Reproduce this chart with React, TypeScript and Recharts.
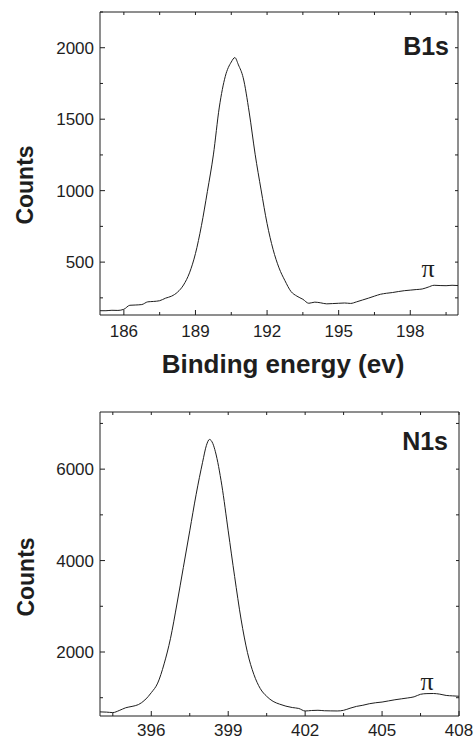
import { LineChart, Line, XAxis, YAxis } from "recharts"

// B1s spectrum
const b1sEnergy = [
    185.0, 185.25, 185.5, 185.75, 186.0, 186.25, 186.5, 186.75, 187.0, 187.25,
    187.5, 187.75, 188.0, 188.25, 188.5, 188.75, 189.0, 189.25, 189.5, 189.75,
    190.0, 190.25, 190.5, 190.65, 190.8, 191.0, 191.25, 191.5, 191.75, 192.0,
    192.25, 192.5, 192.75, 193.0, 193.25, 193.5, 193.75, 194.0, 194.25, 194.5,
    194.75, 195.0, 195.25, 195.5, 195.75, 196.0, 196.25, 196.5, 196.75, 197.0,
    197.25, 197.5, 197.75, 198.0, 198.25, 198.5, 198.75, 199.0, 199.25, 199.5,
    199.75, 200.0,
]
const b1sCounts = [
    160, 160, 163, 162, 170, 198, 200, 203, 222, 225,
    230, 248, 262, 290, 340, 425, 560, 755, 995, 1250,
    1585, 1800, 1900, 1931, 1880, 1790, 1550, 1255, 1005, 770,
    590, 460, 370, 295, 262, 240, 212, 220, 215, 208,
    210, 212, 214, 211, 222, 235, 248, 262, 275, 282,
    287, 294, 300, 304, 308, 312, 325, 338, 336, 335,
    338, 336,
]

// N1s spectrum
const n1sEnergy = [
    394.0, 394.25, 394.5, 394.75, 395.0, 395.25, 395.5, 395.75, 396.0, 396.25,
    396.5, 396.75, 397.0, 397.25, 397.5, 397.75, 398.0, 398.15, 398.27, 398.4,
    398.5, 398.75, 399.0, 399.25, 399.5, 399.75, 400.0, 400.25, 400.5, 400.75,
    401.0, 401.25, 401.5, 401.75, 402.0, 402.25, 402.5, 402.75, 403.0, 403.25,
    403.5, 403.75, 404.0, 404.25, 404.5, 404.75, 405.0, 405.25, 405.5, 405.75,
    406.0, 406.25, 406.5, 406.75, 407.0, 407.25, 407.5, 407.75, 408.0,
]
const n1sCounts = [
    690, 685, 675, 720, 780, 810, 850, 950, 1110, 1320,
    1740, 2300, 3050, 3850, 4650, 5450, 6150, 6520, 6650, 6560,
    6380, 5650, 4650, 3650, 2720, 1990, 1510, 1200, 1030, 920,
    860, 815, 785, 765, 710, 720, 725, 715, 712, 710,
    725, 770, 810, 835, 868, 890, 905, 930, 955, 975,
    995, 1020, 1075, 1090, 1092, 1078, 1050, 1040, 1032,
]

// ticks (majors get labels)
const b1sXTicks = [186, 187.5, 189, 190.5, 192, 193.5, 195, 196.5, 198, 199.5]
const b1sXLabels = [186, 189, 192, 195, 198]
const b1sYTicks = [250, 500, 750, 1000, 1250, 1500, 1750, 2000, 2250]
const b1sYLabels = [500, 1000, 1500, 2000]

const n1sXTicks = [394.5, 396, 397.5, 399, 400.5, 402, 403.5, 405, 406.5, 408]
const n1sXLabels = [396, 399, 402, 405, 408]
const n1sYTicks = [1000, 2000, 3000, 4000, 5000, 6000, 7000]
const n1sYLabels = [2000, 4000, 6000]

const INK = "#1e1e1e"
const FONT = "'Liberation Sans', Arial, sans-serif"

const makeRows = (xs: number[], ys: number[]) => xs.map((e, i) => ({ e, c: ys[i] }))

function bottomTick(p: any, labels: number[], gap: number) {
    const major = labels.includes(p.payload.value)
    return (
        <g>
            <line x1={p.x} x2={p.x} y1={p.y} y2={p.y - (major ? 5 : 3)} stroke={INK} />
            {major && (
                <text x={p.x} y={p.y + gap} textAnchor="middle" fontSize={17} fontFamily={FONT} fill={INK}>
                    {p.payload.value}
                </text>
            )}
        </g>
    )
}

function leftTick(p: any, labels: number[]) {
    const major = labels.includes(p.payload.value)
    return (
        <g>
            <line x1={p.x} x2={p.x + (major ? 5 : 3)} y1={p.y} y2={p.y} stroke={INK} />
            {major && (
                <text x={p.x - 6} y={p.y + 6} textAnchor="end" fontSize={17} fontFamily={FONT} fill={INK}>
                    {p.payload.value}
                </text>
            )}
        </g>
    )
}

const topTick = (p: any) => <line x1={p.x} x2={p.x} y1={p.y} y2={p.y + 3} stroke={INK} />
const rightTick = (p: any) => <line x1={p.x} x2={p.x - 3} y1={p.y} y2={p.y} stroke={INK} />

type PanelProps = {
    rows: { e: number; c: number }[]
    xDomain: [number, number]
    yDomain: [number, number]
    xTicks: number[]
    xLabels: number[]
    yTicks: number[]
    yLabels: number[]
    labelGap: number
    width: number
    height: number
    margin: { top: number; right: number; bottom: number; left: number }
}

// axes take 20px bottom, 1px top, 40px left, 1px right
function Panel(props: PanelProps) {
    const { rows, xDomain, yDomain, xTicks, xLabels, yTicks, yLabels } = props
    return (
        <LineChart width={props.width} height={props.height} data={rows} margin={props.margin}>
            <XAxis
                dataKey="e"
                type="number"
                domain={xDomain}
                allowDataOverflow
                ticks={xTicks}
                interval={0}
                height={20}
                tickSize={0}
                tickMargin={0}
                tickLine={false}
                axisLine={{ stroke: INK }}
                tick={(p: any) => bottomTick(p, xLabels, props.labelGap)}
            />
            <XAxis
                xAxisId="top"
                orientation="top"
                dataKey="e"
                type="number"
                domain={xDomain}
                allowDataOverflow
                ticks={xTicks}
                interval={0}
                height={1}
                tickSize={0}
                tickMargin={0}
                tickLine={false}
                axisLine={{ stroke: INK }}
                tick={topTick}
            />
            <YAxis
                type="number"
                domain={yDomain}
                allowDataOverflow
                ticks={yTicks}
                interval={0}
                width={40}
                tickSize={0}
                tickMargin={0}
                tickLine={false}
                axisLine={{ stroke: INK }}
                tick={(p: any) => leftTick(p, yLabels)}
            />
            <YAxis
                yAxisId="right"
                orientation="right"
                type="number"
                domain={yDomain}
                allowDataOverflow
                ticks={yTicks}
                interval={0}
                width={1}
                tickSize={0}
                tickMargin={0}
                tickLine={false}
                axisLine={{ stroke: INK }}
                tick={rightTick}
            />
            <Line
                dataKey="c"
                type="monotone"
                stroke={INK}
                strokeWidth={1}
                dot={false}
                activeDot={false}
                isAnimationActive={false}
            />
            <Line
                xAxisId="top"
                yAxisId="right"
                dataKey="c"
                stroke="none"
                dot={false}
                activeDot={false}
                isAnimationActive={false}
            />
        </LineChart>
    )
}

export default function App() {
    const bold = { fontFamily: FONT, fontWeight: 700, fill: INK }
    const pi = { fontFamily: "'Liberation Serif', 'Times New Roman', serif", fontSize: 26, fill: INK }
    return (
        <div style={{ position: "absolute", left: 0, top: 0, width: 475, height: 739, background: "#fff" }}>
            <div style={{ position: "absolute", left: 0, top: 0 }}>
                <Panel
                    rows={makeRows(b1sEnergy, b1sCounts)}
                    xDomain={[185, 200]}
                    yDomain={[130, 2250]}
                    xTicks={b1sXTicks}
                    xLabels={b1sXLabels}
                    yTicks={b1sYTicks}
                    yLabels={b1sYLabels}
                    labelGap={22}
                    width={475}
                    height={390}
                    margin={{ top: 11, right: 16, bottom: 55, left: 60 }}
                />
            </div>
            <div style={{ position: "absolute", left: 0, top: 390 }}>
                <Panel
                    rows={makeRows(n1sEnergy, n1sCounts)}
                    xDomain={[394, 408]}
                    yDomain={[600, 7250]}
                    xTicks={n1sXTicks}
                    xLabels={n1sXLabels}
                    yTicks={n1sYTicks}
                    yLabels={n1sYLabels}
                    labelGap={20}
                    width={475}
                    height={349}
                    margin={{ top: 21, right: 15, bottom: 3, left: 60 }}
                />
            </div>
            <svg
                width={475}
                height={739}
                style={{ position: "absolute", left: 0, top: 0, pointerEvents: "none" }}
            >
                <text x={449} y={55} textAnchor="end" fontSize={25} {...bold}>B1s</text>
                <text x={448} y={450} textAnchor="end" fontSize={25} {...bold}>N1s</text>
                <text x={428} y={277} textAnchor="middle" {...pi}>π</text>
                <text x={427} y={690} textAnchor="middle" {...pi}>π</text>
                <text x={25} y={185} transform="rotate(-90 25 185)" textAnchor="middle" dominantBaseline="central" fontSize={23} {...bold}>
                    Counts
                </text>
                <text x={26} y={577} transform="rotate(-90 26 577)" textAnchor="middle" dominantBaseline="central" fontSize={23} {...bold}>
                    Counts
                </text>
                <text x={283} y={373} textAnchor="middle" fontSize={26} {...bold}>Binding energy (ev)</text>
            </svg>
        </div>
    )
}
